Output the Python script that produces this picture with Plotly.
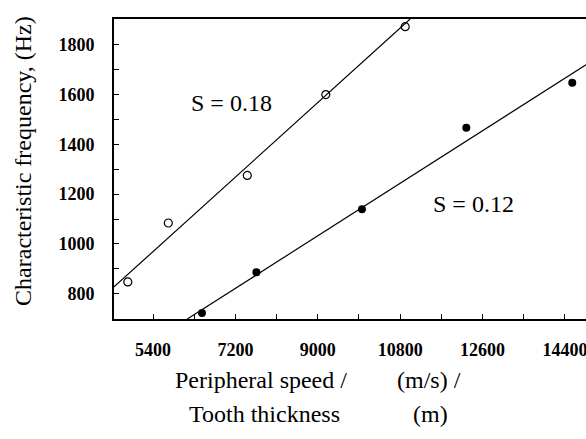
import plotly.graph_objects as go

# ---- data ----
x_s018 = [4850, 5735, 7460, 9175, 10910]
y_s018 = [847, 1084, 1275, 1600, 1873]
x_s012 = [6470, 7660, 9965, 12245, 14560]
y_s012 = [722, 886, 1139, 1467, 1648]

fit018_x = [4548, 11018]
fit018_y = [827, 1904]
fit012_x = [6149, 14860]
fit012_y = [698, 1720]

x_range = [4548, 14860]
y_range = [698, 1904]

serif = "Liberation Serif"

fig = go.Figure()
fig.add_trace(go.Scatter(x=fit018_x, y=fit018_y, mode="lines",
                         line=dict(color="black", width=1.2), showlegend=False))
fig.add_trace(go.Scatter(x=fit012_x, y=fit012_y, mode="lines",
                         line=dict(color="black", width=1.2), showlegend=False))
fig.add_trace(go.Scatter(x=x_s018, y=y_s018, mode="markers",
                         marker=dict(symbol="circle-open", size=8, color="black",
                                     line=dict(width=1.2, color="black")),
                         showlegend=False, cliponaxis=False))
fig.add_trace(go.Scatter(x=x_s012, y=y_s012, mode="markers",
                         marker=dict(symbol="circle", size=8, color="black"),
                         showlegend=False, cliponaxis=False))

tick_font = dict(family=serif, size=18, weight="bold", color="black")

fig.update_layout(
    width=586, height=439,
    margin=dict(l=114, r=0, t=19, b=120),
    paper_bgcolor="white", plot_bgcolor="white",
    font=dict(family=serif, color="black"),
    xaxis=dict(range=x_range, showgrid=False, zeroline=False,
               showline=True, linecolor="black", linewidth=2, mirror=True,
               tickmode="linear", tick0=5400, dtick=1800, tickformat="d",
               ticks="inside", ticklen=5, tickwidth=1, tickcolor="black",
               minor=dict(dtick=900, tick0=5400, ticks="inside", ticklen=5,
                          tickwidth=1, tickcolor="black", showgrid=False),
               tickfont=tick_font, ticklabelstandoff=13,
               ticklabeloverflow="allow"),
    yaxis=dict(range=y_range, showgrid=False, zeroline=False,
               showline=True, linecolor="black", linewidth=2,
               tickmode="linear", tick0=800, dtick=200, tickformat="d",
               ticks="inside", ticklen=5, tickwidth=1, tickcolor="black",
               minor=dict(dtick=100, tick0=800, ticks="inside", ticklen=5,
                          tickwidth=1, tickcolor="black", showgrid=False),
               tickfont=tick_font, ticklabelstandoff=14),
)

ann_font = dict(family=serif, size=24, color="black")
fig.add_annotation(x=7124, y=1567, xref="x", yref="y", text="S = 0.18",
                   showarrow=False, font=ann_font, xanchor="center", yanchor="middle")
fig.add_annotation(x=12392, y=1160, xref="x", yref="y", text="S = 0.12",
                   showarrow=False, font=ann_font, xanchor="center", yanchor="middle")

# y-axis title
fig.add_annotation(x=-0.1928, y=0.527, xref="paper", yref="paper",
                   text="Characteristic frequency, (Hz)", textangle=-90,
                   showarrow=False, font=ann_font, xanchor="center", yanchor="middle")
# x-axis title (two-line fraction layout)
fig.add_annotation(x=0.3114, y=-0.2017, xref="paper", yref="paper",
                   text="Peripheral speed /", showarrow=False, font=ann_font,
                   xanchor="center", yanchor="middle")
fig.add_annotation(x=0.6684, y=-0.2017, xref="paper", yref="paper",
                   text="(m/s) /", showarrow=False, font=ann_font,
                   xanchor="center", yanchor="middle")
fig.add_annotation(x=0.3199, y=-0.318, xref="paper", yref="paper",
                   text="Tooth thickness", showarrow=False, font=ann_font,
                   xanchor="center", yanchor="middle")
fig.add_annotation(x=0.6706, y=-0.318, xref="paper", yref="paper",
                   text="(m)", showarrow=False, font=ann_font,
                   xanchor="center", yanchor="middle")

fig.write_html("out.html")
